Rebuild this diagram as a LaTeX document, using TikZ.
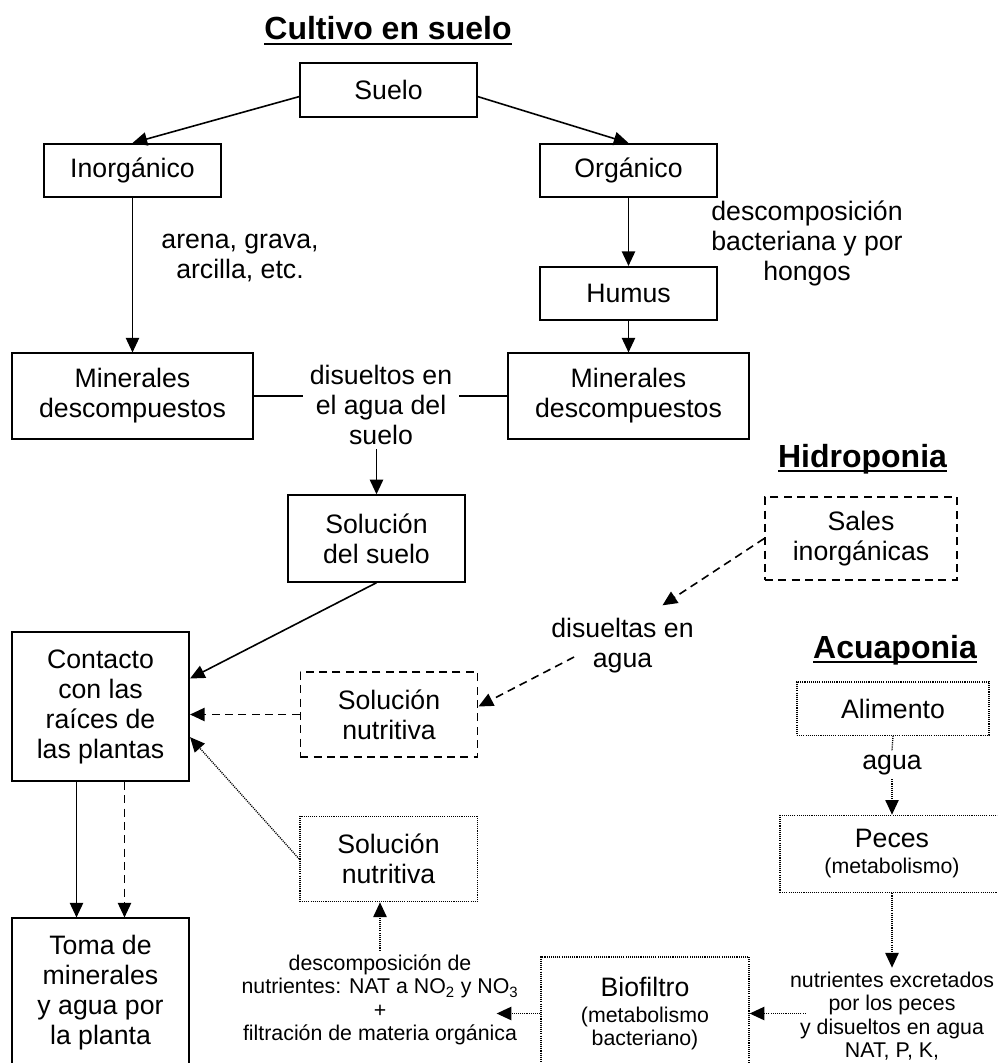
\documentclass[tikz,border=0pt]{standalone}
\usepackage{fontspec}
\setmainfont{Liberation Sans}
\usetikzlibrary{arrows.meta,calc}
\newcommand{\letrachica}{\fontsize{16}{17.5}\selectfont}
\newsavebox{\cajatitulo}
\newcommand{\subrayado}[1]{\sbox{\cajatitulo}{#1}\rlap{\vrule height -2pt depth 3.8pt width \wd\cajatitulo}\usebox{\cajatitulo}}

\begin{document}
\begin{tikzpicture}
[x=0.75pt,y=-0.75pt,
every node/.style={align=center,inner sep=0pt,font=\fontsize{20}{22.5}\selectfont},
etiqueta/.style={inner sep=3pt},
caja/.style={draw,line width=1.3pt,minimum width=133pt,minimum height=40pt},
cajah/.style={caja,line width=1.2pt,dash pattern=on 6pt off 4pt},
cajaa/.style={caja,line width=1pt,dash pattern=on 0.8pt off 0.8pt},
titulo/.style={font=\fontsize{24}{28}\selectfont\bfseries,anchor=base},
linea/.style={line width=1.2pt},
flecha/.style={linea,-{Triangle[length=11pt,width=10pt]}},
flechah/.style={flecha,dash pattern=on 6pt off 4pt},
puntos/.style={line width=1pt,dash pattern=on 0.8pt off 0.8pt},
flechaa/.style={puntos,-{Triangle[length=11pt,width=10pt]}},
]
\useasboundingbox (0,0) rectangle (997,1063);
\clip (0,0) rectangle (997,1063);

\node[titulo] (tcult) at (388,40) {\subrayado{Cultivo en suelo}};
\node[caja] (suelo) at (388.5,90) {Suelo};
\node[caja] (inorg) at (132.5,170.5) {Inorgánico};
\node[caja] (org) at (628.5,170.5) {Orgánico};
\node[etiqueta] (arena) at (240,258) {arena, grava,\\arcilla, etc.};
\node[etiqueta] (bact) at (807,243) {descomposición\\bacteriana y por\\hongos};
\node[caja] (humus) at (628.5,293.5) {Humus};
\node[caja,minimum width=181pt,minimum height=64pt] (minI) at (132.5,396) {Minerales\\descompuestos};
\node[caja,minimum width=181pt,minimum height=64pt] (minO) at (628.5,396) {Minerales\\descompuestos};
\node[etiqueta,inner xsep=5pt] (disS) at (381,405) {disueltos en\\el agua del\\suelo};
\node[caja,minimum height=65pt] (solS) at (376.5,538.5) {Solución\\del suelo};

\node[titulo] (thid) at (862.5,467) {\subrayado{Hidroponia}};
\node[cajah,minimum width=144pt,minimum height=62pt] (sales) at (861,538.5) {Sales\\inorgánicas};
\node[etiqueta] (disA) at (622.5,646) {disueltas en\\agua};
\node[cajah,minimum height=64pt] (solH) at (389,714.5) {Solución\\nutritiva};

\node[caja,minimum height=112pt] (cont) at (100.5,706.5) {Contacto\\con las\\raíces de\\las plantas};
\node[caja,minimum height=112pt] (toma) at (100.5,993) {Toma de\\minerales\\y agua por\\la planta};

\node[titulo] (tacu) at (895,658) {\subrayado{Acuaponia}};
\node[cajaa,minimum width=144pt] (alim) at (893,708.5) {Alimento};
\node[etiqueta] (agua) at (892,765) {agua};
\node[cajaa,minimum width=168pt,minimum height=58pt] (peces) at (892,854) {Peces\\[-3pt]{\letrachica (metabolismo)}};
\node[etiqueta,font=\letrachica] (excr) at (892,1016) {nutrientes excretados\\por los peces\\y disueltos en agua\\NAT, P, K,};
\node[cajaa,minimum width=156pt,minimum height=85pt] (bio) at (645,1013.5) {Biofiltro\\[-3pt]{\letrachica (metabolismo}\\[-5pt]{\letrachica bacteriano)}};
\node[etiqueta,font=\letrachica] (nitr) at (380,1000) {descomposición de\\nutrientes: NAT a NO\textsubscript{2} y NO\textsubscript{3}\\+\\filtración de materia orgánica};
\node[cajaa,minimum height=64pt] (solA) at (388.5,859) {Solución\\nutritiva};
\coordinate (mas) at ($(nitr.east)+(-26,0)$);

\draw[flecha] ([yshift=-5pt]suelo.west) -- (inorg.north);
\draw[flecha] ([yshift=-5pt]suelo.east) -- (org.north);
\draw[flecha] (inorg.south) -- (minI.north);
\draw[flecha] (org.south) -- (humus.north);
\draw[flecha] (humus.south) -- (minO.north);
\draw[linea] (minI.east) -- (minI.east -| disS.west);
\draw[linea] (minO.west -| disS.east) -- (minO.west);
\draw[flecha] (solS.north |- disS.south) -- (solS.north);
\draw[flecha] (solS.south) -- ([yshift=21pt]cont.east);

\draw[flechah] (sales.west) -- ($(disA.north)+(40,-9)$);
\draw[flechah] ($(disA.west)+(27,11)$) -- ([yshift=6pt]solH.east);
\draw[flechah] (solH.west) -- (solH.west -| cont.east);

\draw[flecha] ([xshift=-18pt]cont.south) -- ([xshift=-18pt]toma.north);
\draw[flechah] ([xshift=18pt]cont.south) -- ([xshift=18pt]toma.north);

\draw[puntos] (alim.south) -- (agua.north);
\draw[flechaa] (agua.south) -- (peces.north);
\draw[flechaa] (peces.south) -- (excr.north);
\draw[flechaa] ($(bio.east -| excr.west)+(20,0)$) -- (bio.east);
\draw[flechaa] (bio.west) -- (bio.west -| mas);
\draw[flechaa] (nitr.north) -- (nitr.north |- solA.south);
\draw[flechaa] (solA.west) -- ([yshift=-23pt]cont.east);
\end{tikzpicture}
\end{document}
